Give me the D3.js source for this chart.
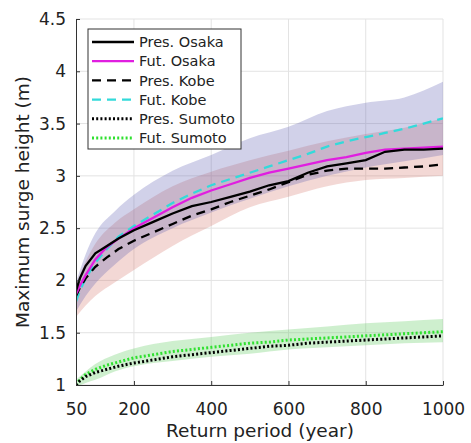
<!doctype html>
<html>
<head>
  <script src="https://cdnjs.cloudflare.com/ajax/libs/d3/7.8.5/d3.min.js" type="text/JavaScript"></script>
  <style>
    body { margin: 0; background: #fff; }
    text { font-family: "DejaVu Sans", sans-serif; fill: #222; }
  </style>
</head>
<body>
<svg height="443" width="471"></svg>
<script type="text/javascript">
// return periods (year) shared by the mean curves
var periods = [50, 60, 75, 100, 130, 160, 200, 250, 300, 350, 400, 450, 500, 550, 600, 650, 700, 750, 800, 850, 900, 950, 1000];
var presOsaka = [1.90, 2.02, 2.14, 2.26, 2.33, 2.40, 2.48, 2.56, 2.64, 2.71, 2.75, 2.80, 2.85, 2.91, 2.95, 3.03, 3.09, 3.12, 3.15, 3.23, 3.25, 3.25, 3.26];
var futOsaka  = [1.87, 1.95, 2.05, 2.20, 2.32, 2.40, 2.50, 2.60, 2.70, 2.79, 2.86, 2.92, 2.98, 3.03, 3.07, 3.11, 3.15, 3.18, 3.22, 3.25, 3.26, 3.27, 3.28];
var presKobe  = [1.85, 1.93, 2.02, 2.13, 2.22, 2.30, 2.38, 2.46, 2.54, 2.62, 2.68, 2.75, 2.81, 2.87, 2.94, 3.01, 3.05, 3.07, 3.07, 3.07, 3.08, 3.09, 3.11];
var futKobe   = [1.80, 1.90, 2.02, 2.17, 2.30, 2.42, 2.52, 2.63, 2.74, 2.83, 2.91, 2.97, 3.03, 3.09, 3.15, 3.21, 3.28, 3.33, 3.37, 3.41, 3.45, 3.50, 3.55];
var presSumoto = [1.00, 1.04, 1.08, 1.12, 1.15, 1.18, 1.21, 1.24, 1.27, 1.29, 1.31, 1.33, 1.35, 1.37, 1.38, 1.40, 1.41, 1.42, 1.43, 1.44, 1.45, 1.46, 1.47];
var futSumoto  = [1.00, 1.05, 1.10, 1.15, 1.19, 1.22, 1.26, 1.29, 1.32, 1.34, 1.36, 1.38, 1.40, 1.41, 1.43, 1.44, 1.45, 1.46, 1.47, 1.48, 1.49, 1.50, 1.51];

// uncertainty ranges
var bandPeriods = [50, 75, 100, 150, 200, 300, 400, 500, 600, 700, 800, 900, 1000];
var futHigh  = [1.98, 2.25, 2.45, 2.66, 2.82, 3.05, 3.20, 3.36, 3.47, 3.62, 3.70, 3.75, 3.90];
var futLow   = [1.70, 1.85, 1.97, 2.15, 2.30, 2.50, 2.65, 2.78, 2.90, 3.00, 3.08, 3.14, 3.20];
var presHigh = [1.96, 2.18, 2.35, 2.55, 2.68, 2.90, 3.04, 3.15, 3.24, 3.33, 3.40, 3.46, 3.55];
var presLow  = [1.65, 1.76, 1.85, 1.98, 2.10, 2.33, 2.52, 2.70, 2.80, 2.90, 2.96, 2.98, 3.00];
var sumHigh  = [1.05, 1.13, 1.20, 1.29, 1.35, 1.42, 1.46, 1.50, 1.53, 1.56, 1.59, 1.61, 1.63];
var sumLow   = [0.98, 1.02, 1.05, 1.13, 1.18, 1.23, 1.27, 1.30, 1.34, 1.36, 1.38, 1.40, 1.41];

var xTicks = [50, 200, 400, 600, 800, 1000];
var yTicks = [1, 1.5, 2, 2.5, 3, 3.5, 4, 4.5];

var svg = d3.select("svg");
var x = d3.scaleLinear().domain([50, 1000]).range([76, 443]);
var y = d3.scaleLinear().domain([1, 4.5]).range([385, 19]);

svg.append("clipPath").attr("id", "plot")
  .append("rect").attr("x", 76).attr("y", 19).attr("width", 367).attr("height", 366);

// grid
svg.append("g").selectAll("line").data(yTicks).enter().append("line")
  .attr("x1", 76).attr("x2", 443).attr("y1", d => y(d)).attr("y2", d => y(d))
  .style("stroke", "#e3e3e3").style("stroke-width", 1);
svg.append("g").selectAll("line").data(xTicks.slice(1)).enter().append("line")
  .attr("y1", 19).attr("y2", 385).attr("x1", d => x(d)).attr("x2", d => x(d))
  .style("stroke", "#e3e3e3").style("stroke-width", 1);

var plot = svg.append("g").attr("clip-path", "url(#plot)");

function band(hi, lo) {
  return d3.area().curve(d3.curveMonotoneX)
    .x((d, i) => x(bandPeriods[i]))
    .y0((d, i) => y(lo[i]))
    .y1((d, i) => y(hi[i]))(bandPeriods);
}
plot.append("path").attr("d", band(presHigh, presLow)).style("fill", "#d06a5e").style("fill-opacity", 0.26);
plot.append("path").attr("d", band(futHigh, futLow)).style("fill", "#5a5aaf").style("fill-opacity", 0.28);
plot.append("path").attr("d", band(sumHigh, sumLow)).style("fill", "#5cc95c").style("fill-opacity", 0.3);

var series = [
  {name: "Pres. Osaka",  vals: presOsaka,  color: "#000",    dash: null},
  {name: "Fut. Osaka",   vals: futOsaka,   color: "#e01ee0", dash: null},
  {name: "Pres. Kobe",   vals: presKobe,   color: "#000",    dash: "9,6"},
  {name: "Fut. Kobe",    vals: futKobe,    color: "#33dada", dash: "9,6"},
  {name: "Pres. Sumoto", vals: presSumoto, color: "#000",    dash: "2,2.2"},
  {name: "Fut. Sumoto",  vals: futSumoto,  color: "#2fe02f", dash: "2,2.2"}
];
var line = d3.line().x((d, i) => x(periods[i])).y(d => y(d));
// draw order: Kobe/Sumoto under Osaka
[3, 2, 1, 0, 5, 4].forEach(function(k) {
  var s = series[k];
  plot.append("path").attr("d", line(s.vals))
    .style("fill", "none").style("stroke", s.color)
    .style("stroke-width", k >= 4 ? 3 : 2.3)
    .style("stroke-dasharray", s.dash);
});

// axes
var xAxis = d3.axisBottom(x).tickValues(xTicks).tickSizeInner(-4).tickSizeOuter(0).tickPadding(18)
  .tickFormat(d3.format("d"));
var yAxis = d3.axisLeft(y).tickValues(yTicks).tickSizeInner(-4).tickSizeOuter(0).tickPadding(10)
  .tickFormat(d3.format("~g"));
var gx = svg.append("g").attr("transform", "translate(0,385)").call(xAxis);
var gy = svg.append("g").attr("transform", "translate(76,0)").call(yAxis);
[gx, gy].forEach(function(g) {
  g.select(".domain").style("stroke", "#333");
  g.selectAll(".tick line").style("stroke", "#333");
  g.selectAll("text").style("font-size", "17px").style("fill", "#222")
    .style("font-family", '"DejaVu Sans", sans-serif');
});

svg.append("text").attr("x", 260).attr("y", 437).attr("text-anchor", "middle")
  .style("font-size", "18.5px").text("Return period (year)");
svg.append("text").attr("transform", "translate(29,202) rotate(-90)").attr("text-anchor", "middle")
  .style("font-size", "18.5px").text("Maximum surge height (m)");

// legend
var lg = svg.append("g");
lg.append("rect").attr("x", 88).attr("y", 29).attr("width", 153).attr("height", 120)
  .style("fill", "#fff").style("stroke", "#333").style("stroke-width", 1);
series.forEach(function(s, i) {
  var ly = 42 + i * 19.2;
  lg.append("line").attr("x1", 92).attr("x2", 134).attr("y1", ly).attr("y2", ly)
    .style("stroke", s.color).style("stroke-width", i >= 4 ? 3 : 2.3)
    .style("stroke-dasharray", s.dash);
  lg.append("text").attr("x", 139).attr("y", ly).attr("dy", "0.36em")
    .style("font-size", "14.5px").text(s.name);
});
</script>
</body>
</html>
